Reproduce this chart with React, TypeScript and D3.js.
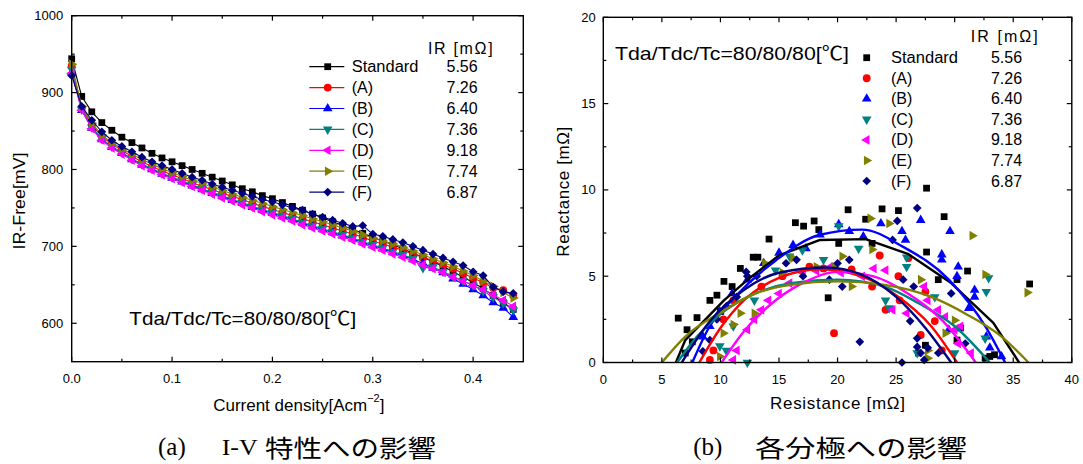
import React from "react";
import * as d3 from "d3";

// ---- (a) I-V data ----
const currentDensity = [
  0, 0.01, 0.02, 0.03, 0.04, 0.05, 0.06, 0.07, 0.08, 0.09, 0.1, 0.11, 0.12, 0.13, 0.14,
  0.15, 0.16, 0.17, 0.18, 0.19, 0.2, 0.21, 0.22, 0.23, 0.24, 0.25, 0.26, 0.27, 0.28, 0.29,
  0.3, 0.31, 0.32, 0.33, 0.34, 0.35, 0.36, 0.37, 0.38, 0.39, 0.4, 0.41, 0.42, 0.43, 0.44,
];
const ivStandard = [944, 895, 875, 861, 851, 842, 835, 828, 821, 815, 810, 805, 800, 795, 790, 785, 780, 775, 771, 766, 762, 757, 752, 747, 742, 737, 732, 727, 722, 717, 712, 707, 702, 697, 691, 686, 680, 674, 667, 660, 653, 645, 636, 627, 618];
const ivA = [935, 880, 858, 843, 833, 825, 817, 810, 804, 798, 793, 788, 783, 778, 774, 769, 765, 761, 756, 752, 748, 744, 740, 736, 732, 728, 724, 720, 716, 712, 707, 703, 699, 695, 690, 686, 681, 676, 671, 665, 659, 653, 646, 643, 636];
const ivB = [926, 877, 854, 839, 829, 821, 813, 806, 800, 794, 789, 784, 779, 774, 769, 765, 760, 756, 751, 747, 743, 739, 735, 730, 726, 722, 718, 714, 710, 705, 701, 697, 692, 688, 683, 678, 672, 666, 658, 651, 644, 636, 627, 620, 608];
const ivC = [930, 878, 855, 840, 830, 822, 814, 807, 801, 795, 790, 785, 780, 775, 770, 766, 761, 757, 752, 748, 744, 740, 736, 731, 727, 723, 719, 715, 711, 706, 702, 698, 693, 689, 684, 672, 673, 667, 661, 655, 649, 642, 634, 626, 617];
const ivD = [925, 877, 853, 838, 828, 820, 812, 805, 799, 793, 788, 783, 778, 773, 768, 763, 759, 754, 750, 745, 741, 737, 733, 728, 724, 720, 716, 712, 708, 703, 699, 695, 690, 686, 681, 676, 671, 666, 660, 655, 649, 644, 637, 630, 622];
const ivE = [937, 882, 860, 845, 835, 827, 820, 813, 807, 801, 796, 791, 786, 782, 777, 773, 768, 764, 760, 756, 752, 748, 744, 740, 736, 732, 728, 724, 720, 715, 711, 707, 703, 699, 694, 689, 684, 679, 674, 668, 662, 655, 648, 640, 633];
const ivF = [922, 882, 864, 849, 838, 830, 823, 816, 810, 805, 800, 795, 790, 786, 781, 777, 773, 769, 765, 761, 758, 754, 750, 747, 742, 738, 734, 730, 726, 727, 716, 713, 709, 705, 700, 695, 690, 685, 680, 675, 667, 662, 647, 641, 639];

// ---- (b) impedance data [resistance, reactance] ----
const nyStandard = [[6.4, 2.57], [7.15, 1.9], [8.0, 2.6], [7.6, 1.2], [7.0, 0.55], [9.1, 3.6], [9.7, 3.9], [10.0, 2.95], [10.3, 4.7], [11.0, 4.4], [11.7, 5.45], [12.8, 6.1], [13.2, 6.1], [14.15, 7.15], [16.4, 8.1], [17.1, 7.9], [18.0, 8.2], [18.4, 7.7], [19.2, 3.75], [20.1, 6.9], [20.9, 8.85], [22.4, 8.3], [22.95, 6.9], [23.8, 8.9], [25.2, 8.8], [27.6, 10.1], [27.6, 6.4], [28.6, 4.8], [29.1, 8.45], [30.2, 4.8], [31.1, 5.3], [30.5, 2.0], [30.2, 1.3], [27.5, 1.0], [26.9, 0.55], [33.0, 0.35], [33.4, 0.45], [36.4, 4.55], [32.6, 0.25]];
const nyA = [[9.1, 0.15], [9.4, 0.7], [19.7, 1.7], [23.6, 6.2], [25.2, 5.0], [26.05, 6.05], [27.5, 4.1], [28.3, 2.4], [27.1, 1.6], [25.3, 3.6], [17.6, 5.55], [18.8, 5.45], [13.5, 4.4], [11.1, 3.6], [10.25, 2.5], [15.3, 5.0], [21.2, 5.4], [22.95, 4.4], [28.9, 0.7], [24.1, 3.05]];
const nyB = [[9.1, 2.1], [9.95, 2.95], [11, 4.0], [12.3, 4.8], [13.7, 5.75], [15.0, 6.35], [16.2, 6.8], [17.3, 6.6], [18.5, 7.4], [20.1, 8.0], [21.0, 7.6], [22.2, 7.3], [23.7, 8.05], [25.5, 7.6], [25.8, 7.1], [27.1, 8.25], [28.9, 6.25], [29.6, 7.6], [30.3, 5.55], [31.7, 4.2], [31.7, 3.8], [31.2, 3.15], [32.7, 1.5], [33.0, 0.85], [34.0, 0.35], [29.5, 1.9], [28.9, 5.95], [8.5, 1.5], [30.2, 5.0]];
const nyC = [[12.3, 0], [20.1, 7.9], [17.0, 6.5], [15.9, 6.15], [14.7, 5.35], [21.8, 6.6], [24.1, 3.6], [24.4, 3.15], [25.9, 5.55], [25.9, 6.1], [26.8, 0.55], [28.3, 3.8], [30.0, 0.55], [32.6, 1.4], [32.7, 4.1], [32.9, 4.9], [9.95, 0.95], [10.5, 0.7], [11.1, 2.1], [12.9, 3.6], [18.8, 5.95]];
const nyD = [[11.1, 0.15], [11.4, 0.7], [12.3, 1.9], [12.9, 2.5], [13.5, 3.05], [14.1, 3.6], [15.0, 4.0], [15.9, 4.6], [17.05, 5.2], [18.2, 5.3], [19.4, 5.55], [20.3, 5.2], [22.1, 5.0], [23.1, 5.45], [24.1, 5.35], [24.7, 3.05], [25.9, 2.85], [27.4, 4.4], [27.7, 3.6], [28.6, 3.05], [29.2, 2.65], [30.0, 1.9], [30.5, 2.1], [30.3, 1.1], [31.4, 0.55]];
const nyE = [[9.95, 0.35], [10.25, 1.7], [11.1, 2.2], [12.9, 2.85], [13.8, 5.75], [15.3, 5.2], [16.2, 6.05], [18.2, 5.55], [19.7, 5.55], [20.4, 6.15], [22.95, 6.55], [22.8, 8.35], [24.4, 8.05], [27.1, 4.8], [27.7, 0.7], [29.2, 1.7], [30.0, 2.45], [31.5, 7.35], [32.6, 5.1], [36.2, 4.05], [27.7, 0.25], [21.2, 4.4], [11.7, 2.85]];
const nyF = [[8.5, 0.65], [9.1, 1.3], [9.7, 2.5], [10.5, 3.25], [11.4, 3.8], [12.3, 5.0], [13.1, 5.0], [12.2, 5.25], [15.6, 5.75], [16.5, 5.95], [17.05, 5.0], [19.3, 4.8], [20.0, 5.75], [20.4, 4.4], [21.0, 5.95], [21.9, 1.2], [24.7, 7.1], [25.1, 8.2], [26.8, 8.95], [25.6, 4.8], [26.5, 4.4], [26.2, 2.4], [26.8, 1.4], [26.8, 0.9], [27.1, 0.55], [27.7, 0.85], [25.5, 0.0], [28.6, 0.55], [29.7, 4.0], [30.9, 1.1], [27.4, 0.15]];

// fitted curves
const fitStandard = [[6.2, 0], [7, 1.3], [10.3, 3.6], [12.5, 4.9], [15, 6.2], [18.5, 7.1], [22.4, 7.15], [26, 6.3], [29.7, 4.6], [33.3, 2.3], [35.5, 0]];
const fitA = [[8.2, 0], [10, 2], [12, 3.6], [15, 4.9], [18.5, 5.4], [22, 5], [25, 3.9], [28, 2.1], [30.2, 0]];
const fitB = [[7.6, 0], [9, 2.0], [11.1, 3.7], [14.7, 5.9], [18.5, 7.4], [22.1, 7.7], [25.6, 6.7], [29.5, 4.8], [32.7, 2.0], [34.3, 0]];
const fitC = [[6.3, 0], [8, 1.5], [10, 2.8], [13, 4], [16, 4.6], [20, 4.8], [24, 4.4], [27, 3.4], [30, 2.1], [33, 0]];
const fitD = [[10.1, 0], [12, 1.8], [14, 3.2], [17, 4.6], [20, 5.25], [23, 5.0], [26, 4], [29, 2.4], [31.8, 0]];
const fitE = [[5, 0], [7, 1.5], [10, 2.9], [13, 4], [16, 4.5], [20, 4.7], [24, 4.5], [28, 3.8], [31, 2.8], [34, 1.5], [36.3, 0]];
const fitF = [[6.7, 0], [9, 2.3], [12, 4.2], [15, 5.2], [19, 5.5], [22, 5.1], [25, 3.8], [27.5, 2], [29.7, 0]];

const seriesNames = ["Standard", "(A)", "(B)", "(C)", "(D)", "(E)", "(F)"];
const irValues = ["5.56", "7.26", "6.40", "7.36", "9.18", "7.74", "6.87"];
const ivSeries = [ivStandard, ivA, ivB, ivC, ivD, ivE, ivF];
const nySeries = [nyStandard, nyA, nyB, nyC, nyD, nyE, nyF];
const fitSeries = [fitStandard, fitA, fitB, fitC, fitD, fitE, fitF];

const ivXTicks = [0, 0.1, 0.2, 0.3, 0.4];
const ivXMinor = [0.05, 0.15, 0.25, 0.35];
const ivYTicks = [600, 700, 800, 900, 1000];
const ivYMinor = [650, 750, 850, 950];
const nyXTicks = [0, 5, 10, 15, 20, 25, 30, 35, 40];
const nyXMinor = [2.5, 7.5, 12.5, 17.5, 22.5, 27.5, 32.5, 37.5];
const nyYTicks = [0, 5, 10, 15, 20];
const nyYMinor = [2.5, 7.5, 12.5, 17.5];

const colors = ["#000000", "#ff0000", "#0000ff", "#008080", "#ff00ff", "#808000", "#000080"];
const shapes = ["square", "circle", "up", "down", "left", "right", "diamond"];

const FONT = "'Liberation Sans', Arial, 'Noto Sans CJK JP', sans-serif";
const CJK = "'Noto Sans CJK JP', sans-serif";
const SERIF = "'Liberation Serif', 'DejaVu Serif', serif";

const symbolOf = (kind) => {
  if (kind === "circle") return d3.symbol(d3.symbolCircle, 48)();
  if (kind === "square") return d3.symbol(d3.symbolSquare, 46)();
  if (kind === "diamond") return d3.symbol(d3.symbolSquare, 38)();
  return d3.symbol(d3.symbolTriangle, 40)();
};
const rotOf = { square: 0, circle: 0, up: 0, down: 180, left: -90, right: 90, diamond: 45 };

const Marker = ({ kind, x, y, color }) => (
  <path
    d={symbolOf(kind)}
    transform={`translate(${x},${y}) rotate(${rotOf[kind]})`}
    fill={color}
  />
);

// frame with inward ticks on all four sides
const Frame = ({ xs, ys, xMajor, xMinor, yMajor, yMinor, xFmt, yFmt, labelRight }) => {
  const [x0, x1] = xs.range();
  const [y0, y1] = ys.range(); // y0 bottom, y1 top
  return (
    <g>
      {xMajor.concat(xMinor).map((t, i) => {
        const len = i < xMajor.length ? 5 : 3;
        return (
          <g key={"x" + i}>
            <line x1={xs(t)} x2={xs(t)} y1={y0} y2={y0 - len} stroke="#000" strokeWidth={1.2} />
            <line x1={xs(t)} x2={xs(t)} y1={y1} y2={y1 + len} stroke="#000" strokeWidth={1.2} />
          </g>
        );
      })}
      {yMajor.concat(yMinor).map((t, i) => {
        const len = i < yMajor.length ? 5 : 3;
        return (
          <g key={"y" + i}>
            <line x1={x0} x2={x0 + len} y1={ys(t)} y2={ys(t)} stroke="#000" strokeWidth={1.2} />
            <line x1={x1} x2={x1 - len} y1={ys(t)} y2={ys(t)} stroke="#000" strokeWidth={1.2} />
          </g>
        );
      })}
      <rect x={x0} y={y1} width={x1 - x0} height={y0 - y1} fill="none" stroke="#000" strokeWidth={1.4} />
      {xMajor.map((t) => (
        <text key={"xl" + t} x={xs(t)} y={y0 + 17} textAnchor="middle" dominantBaseline="central" fontSize={13}>
          {xFmt(t)}
        </text>
      ))}
      {yMajor.map((t) => (
        <text key={"yl" + t} x={x0 - labelRight} y={ys(t)} textAnchor="end" dominantBaseline="central" fontSize={13}>
          {yFmt(t)}
        </text>
      ))}
    </g>
  );
};

export default function App() {
  const xL = d3.scaleLinear().domain([0, 0.45]).range([71.7, 523.3]);
  const yL = d3.scaleLinear().domain([550, 1000]).range([361.7, 15.7]);
  const xR = d3.scaleLinear().domain([0, 40]).range([603.3, 1071.8]);
  const yR = d3.scaleLinear().domain([0, 20]).range([362.5, 17.3]);

  const ivLine = d3
    .line()
    .x((d) => xL(d[0]))
    .y((d) => yL(d[1]));
  const fitLine = d3
    .line()
    .x((d) => xR(d[0]))
    .y((d) => yR(d[1]))
    .curve(d3.curveMonotoneX);
  const fitLineLinear = d3
    .line()
    .x((d) => xR(d[0]))
    .y((d) => yR(d[1]));

  return (
    <svg
      width={1083}
      height={464}
      style={{ position: "absolute", left: 0, top: 0, background: "#fff" }}
      fontFamily={FONT}
    >
      <rect width={1083} height={464} fill="#fff" />

      {/* ---------- (a) I-V ---------- */}
      {ivSeries.map((vals, s) => {
        const pts = currentDensity.map((c, i) => [c, vals[i]]);
        return (
          <g key={"iv" + s}>
            <path d={ivLine(pts)} fill="none" stroke={colors[s]} strokeWidth={1.1} />
            {pts.map((p, i) => (
              <Marker key={i} kind={shapes[s]} x={xL(p[0])} y={yL(p[1])} color={colors[s]} />
            ))}
          </g>
        );
      })}
      <Frame
        xs={xL}
        ys={yL}
        xMajor={ivXTicks}
        xMinor={ivXMinor}
        yMajor={ivYTicks}
        yMinor={ivYMinor}
        xFmt={d3.format(".1f")}
        yFmt={(d) => d}
        labelRight={8.5}
      />
      <text x={428} y={48.3} dominantBaseline="central" fontSize={16} textLength={64.7} lengthAdjust="spacing">
        IR [mΩ]
      </text>
      {seriesNames.map((n, i) => {
        const y = 66.7 + i * 20.9;
        return (
          <g key={"legL" + i}>
            <line x1={309.3} x2={344.3} y1={y} y2={y} stroke={colors[i]} strokeWidth={1.2} />
            <Marker kind={shapes[i]} x={327.7} y={y} color={colors[i]} />
            <text x={351.7} y={y} dominantBaseline="central" fontSize={16} textLength={i === 0 ? 66.7 : undefined} lengthAdjust="spacingAndGlyphs">
              {n}
            </text>
            <text x={446.5} y={y} dominantBaseline="central" fontSize={16}>
              {irValues[i]}
            </text>
          </g>
        );
      })}
      <text x={129.3} y={318.3} dominantBaseline="central" fontSize={19} textLength={227} lengthAdjust="spacingAndGlyphs">
        Tda/Tdc/Tc=80/80/80[℃]
      </text>
      <text transform="translate(19,201) rotate(-90)" textAnchor="middle" dominantBaseline="central" fontSize={17} textLength={97} lengthAdjust="spacingAndGlyphs">
        IR-Free[mV]
      </text>
      <text x={298.8} y={405} textAnchor="middle" dominantBaseline="central" fontSize={17}>
        Current density[Acm
        <tspan fontSize={11} dy={-7}>
          −2
        </tspan>
        <tspan dy={7}>]</tspan>
      </text>

      {/* ---------- (b) Nyquist ---------- */}
      {nySeries.map((pts, s) => (
        <g key={"ny" + s}>
          {pts.map((p, i) => (
            <Marker key={i} kind={shapes[s]} x={xR(p[0])} y={yR(p[1])} color={colors[s]} />
          ))}
        </g>
      ))}
      {fitSeries.map((pts, s) => (
        <path
          key={"fit" + s}
          d={s === 0 ? fitLineLinear(pts) : fitLine(pts)}
          fill="none"
          stroke={colors[s]}
          strokeWidth={2.4}
          strokeLinejoin="round"
        />
      ))}
      <Frame
        xs={xR}
        ys={yR}
        xMajor={nyXTicks}
        xMinor={nyXMinor}
        yMajor={nyYTicks}
        yMinor={nyYMinor}
        xFmt={(d) => d}
        yFmt={(d) => d}
        labelRight={7.6}
      />
      <text x={615} y={53.3} dominantBaseline="central" fontSize={19} textLength={234} lengthAdjust="spacingAndGlyphs">
        Tda/Tdc/Tc=80/80/80[℃]
      </text>
      <text x={970.8} y={36.7} dominantBaseline="central" fontSize={16} textLength={67} lengthAdjust="spacing">
        IR [mΩ]
      </text>
      {seriesNames.map((n, i) => {
        const y = 57.7 + i * 20.55;
        return (
          <g key={"legR" + i}>
            <Marker kind={shapes[i]} x={866.7} y={y} color={colors[i]} />
            <text x={891} y={y} dominantBaseline="central" fontSize={16} textLength={i === 0 ? 67 : undefined} lengthAdjust="spacingAndGlyphs">
              {n}
            </text>
            <text x={990.9} y={y} dominantBaseline="central" fontSize={16}>
              {irValues[i]}
            </text>
          </g>
        );
      })}
      <text transform="translate(563.5,191.7) rotate(-90)" textAnchor="middle" dominantBaseline="central" fontSize={17} textLength={130} lengthAdjust="spacing">
        Reactance [mΩ]
      </text>
      <text x={837.5} y={403.3} textAnchor="middle" dominantBaseline="central" fontSize={17} textLength={135} lengthAdjust="spacing">
        Resistance [mΩ]
      </text>

      {/* ---------- captions ---------- */}
      <text x={158} y={446.5} dominantBaseline="central" fontSize={25} fontFamily={SERIF}>
        (a)
      </text>
      <text x={221.7} y={446.5} dominantBaseline="central" fontSize={24} fontFamily={SERIF} textLength={36} lengthAdjust="spacingAndGlyphs">
        I-V
      </text>
      <text x={265} y={446.5} dominantBaseline="central" fontSize={24} fontFamily={CJK} textLength={171} lengthAdjust="spacingAndGlyphs">
        特性への影響
      </text>
      <text x={693.3} y={446.5} dominantBaseline="central" fontSize={25} fontFamily={SERIF}>
        (b)
      </text>
      <text x={755} y={446.5} dominantBaseline="central" fontSize={24} fontFamily={CJK} textLength={212} lengthAdjust="spacingAndGlyphs">
        各分極への影響
      </text>
    </svg>
  );
}
